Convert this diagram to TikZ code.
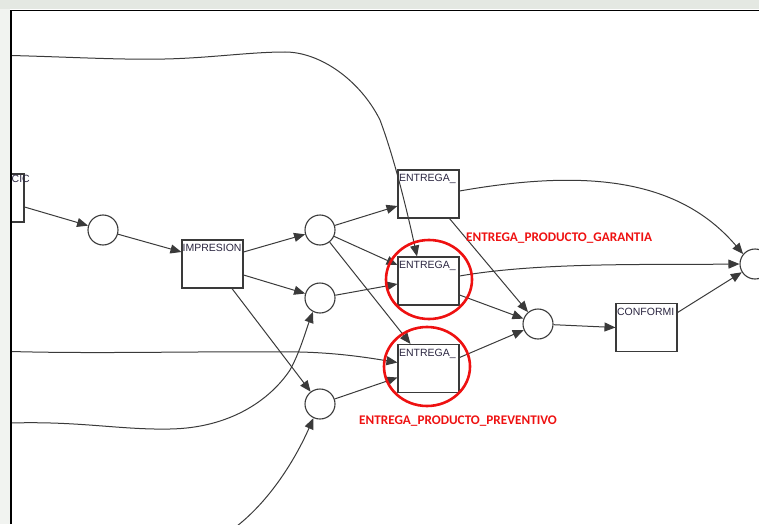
\documentclass[tikz,border=0pt]{standalone}
\usepackage{fontspec}
\setmainfont{Liberation Sans}
\newfontfamily\lblfont{Carlito}
\usetikzlibrary{arrows.meta}
\definecolor{edgec}{HTML}{3A3A3A}
\definecolor{txtc}{HTML}{2A2540}
\definecolor{hil}{HTML}{EE1111}
\definecolor{wm}{HTML}{E4E8E2}
\definecolor{wm2}{HTML}{F1F3F0}
\begin{document}
\begin{tikzpicture}[x=1pt,y=-1pt,
  pl/.style={circle,draw=edgec,line width=1.1pt,minimum size=30pt,inner sep=0pt,fill=white},
  tr/.style={rectangle,draw=edgec,line width=1.1pt,minimum width=61pt,minimum height=48pt,inner sep=0pt},
  btext/.style={anchor=north west,inner sep=0.5pt,font=\fontsize{10.5}{12}\selectfont,text=txtc},
  arc/.style={draw=edgec,line width=1pt,-{Triangle[length=11pt,width=9pt]}},
  hilite/.style={draw=hil,line width=2.6pt},
  redlbl/.style={anchor=west,inner sep=0pt,text=hil,font=\lblfont\bfseries\fontsize{13.2}{15}\selectfont}]
\useasboundingbox (0,0) rectangle (759,524);
% watermark strips outside the frame
\fill[wm] (0,0) rectangle (759,9.5);
\fill[wm2] (0,9.5) rectangle (10,524);
\begin{scope}
\clip (11,10.5) rectangle (759,524);
% places
\node[pl] (p1) at (103,230) {};
\node[pl] (p2) at (320,230) {};
\node[pl] (p3) at (320,298) {};
\node[pl] (p4) at (320,404) {};
\node[pl] (p5) at (538,324) {};
\node[pl] (p6) at (755,264) {};
% transitions
\node[tr] (cic) at (-6.5,198) {};
\node[tr] (imp) at (212.5,264) {};
\node[tr] (e1) at (428.5,194) {};
\node[tr] (e2) at (428.5,281) {};
\node[tr] (e3) at (428.5,368.5) {};
\node[tr] (conf) at (646.5,327.5) {};
\node[btext] (cict) at (11,174.5) {CIC};
\node[btext] (impt) at ([xshift=0.5pt,yshift=-4.5pt]imp.north west) {IMPRESION};
\node[btext] (e1t) at ([xshift=1pt,yshift=-4.5pt]e1.north west) {ENTREGA\_};
\node[btext] (e2t) at ([xshift=1pt,yshift=-4.5pt]e2.north west) {ENTREGA\_};
\node[btext] (e3t) at ([xshift=1pt,yshift=-4.5pt]e3.north west) {ENTREGA\_};
\node[btext] (conft) at ([xshift=1pt,yshift=-4.5pt]conf.north west) {CONFORMI};
% free ends
\coordinate (s1) at (11,55.5);
\coordinate (s2) at (11,351.5);
\coordinate (s3) at (11,423);
\coordinate (s4) at (237,526);
% straight arcs
\draw[arc] ([yshift=-9pt]cic.east) -- (p1);
\draw[arc] (p1) -- ([yshift=12pt]imp.west);
\draw[arc] ([yshift=12pt]imp.east) -- (p2);
\draw[arc] ([yshift=-11pt]imp.east) -- (p3);
\draw[arc] ([xshift=19.5pt]imp.south) -- (p4);
\draw[arc] (p2) -- ([yshift=-12pt]e1.west);
\draw[arc] (p2) -- ([yshift=16pt]e2.west);
\draw[arc] (p2) -- ([xshift=-18pt]e3.north);
\draw[arc] (p3) -- ([yshift=-3pt]e2.west);
\draw[arc] (p4) -- ([yshift=-9pt]e3.west);
\draw[arc] ([xshift=21pt]e1.south) -- (p5);
\draw[arc] ([yshift=-14pt]e2.east) -- (p5);
\draw[arc] ([yshift=11pt]e3.east) -- (p5);
\draw[arc] (p5) -- (conf.west);
\draw[arc] ([yshift=15pt]conf.east) -- (p6);
% curved arcs
\draw[arc] ([yshift=5pt]e2.east) .. controls (540,262) and (650,265) .. (p6.180);
\draw[arc] ([yshift=3pt]e1.east) .. controls (590,168) and (680,180) .. (p6.140);
\draw[arc] (s1) .. controls (70,57) and (120,60) .. (165,59)
  .. controls (210,58) and (250,52) .. (285,52)
  .. controls (320,52) and (360,80) .. (380,120)
  .. controls (395,160) and (408,215) .. ([xshift=-11.5pt]e2.north);
\draw[arc] (s2) .. controls (100,354) and (200,351) .. (300,352)
  .. controls (340,353) and (370,358) .. ([yshift=6pt]e3.west);
\draw[arc] (s3) .. controls (80,421) and (120,430) .. (170,429)
  .. controls (230,428) and (270,400) .. (290,370)
  .. controls (300,352) and (306,330) .. (p3.243);
\draw[arc] (s4) .. controls (270,500) and (295,460) .. (p4.245);
\end{scope}
% frame
\draw[black,line width=1.5pt] (11,524) -- (11,10.5) -- (759,10.5);
% highlights
\draw[hilite] (429,279.5) ellipse [x radius=43pt, y radius=39.5pt];
\draw[hilite] (427,366.5) ellipse [x radius=43pt, y radius=39.5pt];
\node[redlbl] (lg) at (466,238) {ENTREGA\_PRODUCTO\_GARANTIA};
\node[redlbl] (lp) at (359,421) {ENTREGA\_PRODUCTO\_PREVENTIVO};
\end{tikzpicture}
\end{document}
